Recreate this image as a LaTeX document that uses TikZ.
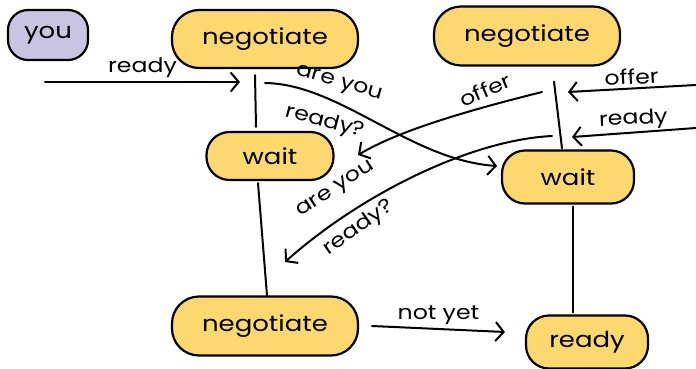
\documentclass[tikz,border=0pt]{standalone}
\usepackage{fontspec}
\setmainfont[FakeStretch=1.18]{Poppins}
\usetikzlibrary{arrows.meta}
\definecolor{nodeyellow}{HTML}{FDD86E}
\definecolor{nodepurple}{HTML}{C8C4E2}
\tikzset{
  blob/.style={draw=black, line width=2.2pt, rounded corners=23pt, fill=nodeyellow, inner sep=0pt, font=\fontsize{22}{24}\selectfont},
  bigblob/.style={blob, rounded corners=27pt},
  youblob/.style={blob, rounded corners=20pt, fill=nodepurple},
  conn/.style={line width=2pt, line cap=round},
  arr/.style={conn, -{Straight Barb[length=8pt,width=19pt,line width=2pt]}},
  lbl/.style={font=\fontsize{20}{22}\selectfont, inner sep=0pt},
}
\begin{document}
\begin{tikzpicture}[x=1pt,y=-1pt]
\useasboundingbox (0,0) rectangle (696,369);
% nodes
\node[youblob, minimum width=80pt, minimum height=50pt] (you) at (48,35) {you};
\node[bigblob, minimum width=186pt, minimum height=58pt] (neg1) at (265,39) {negotiate};
\node[blob, minimum width=127pt, minimum height=48pt] (wait1) at (270,156) {wait};
\node[bigblob, minimum width=186pt, minimum height=59pt] (neg2) at (527,36) {negotiate};
\node[blob, minimum width=132pt, minimum height=53pt] (wait2) at (568,177) {wait};
\node[bigblob, minimum width=186pt, minimum height=59pt] (neg3) at (265,326) {negotiate};
\node[blob, minimum width=122pt, minimum height=53pt] (rdy) at (587,342) {ready};
% free ends
\coordinate (inL) at (45,82);
\coordinate (inLend) at (240,82);
\coordinate (offR) at (696,85);
\coordinate (offRend) at (568,92);
\coordinate (rdyR) at (696,128);
\coordinate (rdyRend) at (572,137);
\coordinate (ay1s) at (265,83);
\coordinate (ay1e) at (497,166);
\coordinate (of1s) at (542,92);
\coordinate (of1e) at (358,155);
\coordinate (ay2s) at (552,136);
\coordinate (ay2e) at (285,262);
\coordinate (nys) at (372,326);
% vertical connectors
\draw[conn] ([shift={(-10,6)}]neg1.south) -- ([shift={(-14,-4)}]wait1.north);
\draw[conn] ([shift={(-12,2)}]wait1.south) -- ([shift={(2,0)}]neg3.north);
\draw[conn] ([shift={(27,15)}]neg2.south) -- ([shift={(-6,-1)}]wait2.north);
\draw[conn] ([shift={(5,2)}]wait2.south) -- ([shift={(-14,-2)}]rdy.north);
% arrows
\draw[arr] (inL) -- node[lbl, above=3pt] {ready} (inLend);
\draw[arr] (offR) -- node[lbl, above=3pt, rotate=3] {offer} (offRend);
\draw[arr] (rdyR) -- node[lbl, above=2pt, rotate=3] {ready} (rdyRend);
\draw[arr] (ay1s) .. controls (340,84) and (410,160) .. (ay1e);
\draw[arr] (of1s) .. controls (470,110) and (400,130) .. (of1e);
\draw[arr] (ay2s) .. controls (470,140) and (360,195) .. (ay2e);
\draw[arr] (nys) -- node[lbl, above=3pt] {not yet} ([shift={(-20,-10)}]rdy.west);
% rotated labels
\node[lbl, rotate=-16] (l1) at (339,84) {are you};
\node[lbl, rotate=-15] (l2) at (325,122) {ready?};
\node[lbl, rotate=23] (l3) at (485,90) {offer};
\node[lbl, rotate=33] (l4) at (336,190) {are you};
\node[lbl, rotate=35] (l5) at (359,228) {ready?};
\end{tikzpicture}
\end{document}
